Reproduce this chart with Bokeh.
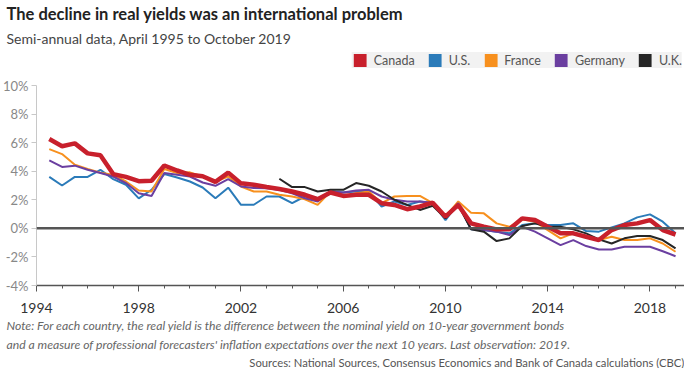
from bokeh.plotting import figure
from bokeh.models import (Range1d, FixedTicker, PrintfTickFormatter, Span, Title,
                          Legend, LegendItem)
from bokeh.embed import file_html
from bokeh.resources import INLINE

NaN = float("nan")

# Semi-annual observations (x positions in years, as plotted in the reference)
start_year = 1994.5
step_years = 0.5

canada = [6.25, 5.75, 5.95, 5.25, 5.12, 3.80, 3.60, 3.30, 3.33, 4.40,
          4.05, 3.75, 3.65, 3.25, 3.90, 3.15, 3.05, 2.89, 2.75, 2.58,
          2.35, 2.04, 2.51, 2.27, 2.35, 2.35, 1.76, 1.64, 1.34, 1.53,
          1.80, 0.82, 1.64, 0.35, 0.11, -0.07, -0.07, 0.70, 0.58, 0.11,
          -0.35, -0.35, -0.59, -0.82, -0.12, 0.23, 0.35, 0.58, -0.12, -0.43]
us = [3.60, 3.00, 3.60, 3.60, 4.10, 3.45, 3.05, 2.10, 2.70, 3.80,
      3.56, 3.28, 2.86, 2.10, 2.85, 1.65, 1.65, 2.23, 2.23, 1.76,
      2.23, 2.00, 2.58, 2.51, 2.58, 2.58, 1.53, 1.88, 1.64, 1.88,
      1.76, 0.58, 1.76, -0.07, -0.12, -0.23, -0.35, 0.23, 0.35, 0.23,
      0.23, 0.35, -0.19, -0.23, 0.07, 0.35, 0.77, 0.98, 0.47, -0.35]
france = [5.55, 5.20, 4.45, 4.15, 3.90, 3.75, 3.28, 2.65, 2.58, 4.15,
          3.87, 3.92, 3.63, 3.28, 3.63, 2.93, 2.58, 2.58, 2.35, 2.23,
          2.04, 1.64, 2.58, 2.23, 2.46, 2.58, 1.76, 2.23, 2.27, 2.27,
          1.76, 0.82, 1.88, 1.10, 1.05, 0.35, 0.11, 0.63, 0.47, -0.12,
          -0.70, -0.35, -0.54, -0.82, -0.59, -0.82, -0.82, -0.70, -1.06, -1.64]
germany = [4.76, 4.30, 4.39, 4.10, 3.87, 3.63, 3.17, 2.46, 2.27, 3.87,
           3.75, 3.63, 3.21, 2.98, 3.45, 2.93, 2.82, 2.81, 2.70, 2.46,
           2.11, 1.88, 2.58, 2.51, 2.65, 2.70, 2.23, 2.00, 1.88, 1.88,
           1.80, 0.70, 1.76, -0.05, -0.12, -0.23, -0.47, 0.11, -0.23, -0.70,
           -1.17, -0.82, -1.24, -1.48, -1.48, -1.29, -1.29, -1.29, -1.60, -1.95]
uk = [NaN, NaN, NaN, NaN, NaN, NaN, NaN, NaN, NaN, NaN,
      NaN, NaN, NaN, NaN, NaN, NaN, NaN, NaN, 3.47, 2.89,
      2.89, 2.58, 2.70, 2.70, 3.17, 2.98, 2.58, 2.00, 1.64, 1.29,
      1.58, 0.70, 1.64, -0.07, -0.23, -0.89, -0.70, 0.16, 0.35, 0.11,
      0.11, -0.07, -0.35, -0.77, -1.06, -0.70, -0.54, -0.54, -0.82, -1.40]

series_names = ["Canada", "U.S.", "France", "Germany", "U.K."]
series_colors = ["#c8202c", "#2b7bb9", "#f7901e", "#6b3fa0", "#262626"]
y_ticks = [-4, -2, 0, 2, 4, 6, 8, 10]
x_major_ticks = [1994, 1998, 2002, 2006, 2010, 2014, 2018]
x_minor_ticks = list(range(1994, 2020))

title_text = "The decline in real yields was an international problem"
subtitle_text = "Semi-annual data, April 1995 to October 2019"
note_1 = ("Note: For each country, the real yield is the difference between the "
          "nominal yield on 10-year government bonds")
note_2 = ("and a measure of professional forecasters' inflation expectations over "
          "the next 10 years. Last observation: 2019.")
source_text = ("Sources: National Sources, Consensus Economics and Bank of Canada "
               "calculations (CBC)")

FONT = "Lato"

x = [start_year + step_years * i for i in range(len(canada))]

p = figure(width=684, height=368, output_backend="svg", toolbar_location=None,
           title=None,
           x_range=Range1d(1994, 2019.35), y_range=Range1d(-4, 12.45),
           min_border_left=30, min_border_right=0, min_border_top=0,
           min_border_bottom=0, outline_line_color=None,
           background_fill_color="white", border_fill_color="white")
p.xgrid.visible = False
p.ygrid.visible = False

# zero line
p.add_layout(Span(location=0, dimension="width", line_color="#555555",
                  line_width=2.5))

values = {"Canada": canada, "U.S.": us, "France": france,
          "Germany": germany, "U.K.": uk}
widths = {"Canada": 4.5, "U.S.": 2, "France": 2, "Germany": 2, "U.K.": 2}
draw_order = ["U.S.", "France", "Germany", "U.K.", "Canada"]
col_of = dict(zip(series_names, series_colors))
for name in draw_order:
    p.line(x, values[name], line_color=col_of[name], line_width=widths[name])

# legend swatches (invisible placeholder glyphs, only used by the legend)
items = []
for name in series_names:
    r = p.quad(left=[NaN], right=[NaN], bottom=[NaN], top=[NaN],
               fill_color=col_of[name], line_color=None)
    items.append(LegendItem(label=name, renderers=[r]))

legend = Legend(items=items, orientation="horizontal", location="top_right",
                background_fill_color="#f2f2f2", background_fill_alpha=1.0,
                border_line_color=None, glyph_width=16, glyph_height=16,
                label_standoff=6, spacing=12, padding=8, margin=2,
                label_height=16, label_text_font=FONT,
                label_text_font_size="12.5px", label_text_color="#555555")
p.add_layout(legend, "center")

p.add_layout(Title(text=subtitle_text, align="left", offset=-30,
                   text_font=FONT, text_font_size="14px",
                   text_font_style="normal", text_color="#444444",
                   standoff=7), "above")
p.add_layout(Title(text=title_text, align="left", offset=-30,
                   text_font=FONT, text_font_size="16.5px",
                   text_font_style="bold", text_color="#222222",
                   standoff=2), "above")

# axes
p.yaxis.ticker = FixedTicker(ticks=y_ticks)
p.yaxis.formatter = PrintfTickFormatter(format="%d%%")
p.yaxis.bounds = (-4, 10)
p.yaxis.axis_line_color = "#c8c8c8"
p.yaxis.major_tick_line_color = "#c8c8c8"
p.yaxis.minor_tick_line_color = None
p.yaxis.major_tick_out = 5
p.yaxis.major_tick_in = 0
p.yaxis.major_label_standoff = 3
p.yaxis.major_label_text_font = FONT
p.yaxis.major_label_text_font_size = "13px"
p.yaxis.major_label_text_color = "#888888"

p.xaxis.ticker = FixedTicker(ticks=x_major_ticks, minor_ticks=x_minor_ticks)
p.xaxis.formatter = PrintfTickFormatter(format="%d")
p.xaxis.bounds = (1994, 2019.35)
p.xaxis.axis_line_color = "#555555"
p.xaxis.axis_line_width = 1.5
p.xaxis.major_tick_line_color = "#555555"
p.xaxis.minor_tick_line_color = "#555555"
p.xaxis.major_tick_out = 6
p.xaxis.major_tick_in = 0
p.xaxis.minor_tick_out = 3
p.xaxis.minor_tick_in = 0
p.xaxis.major_label_standoff = 11
p.xaxis.major_label_text_font = FONT
p.xaxis.major_label_text_font_size = "14px"
p.xaxis.major_label_text_color = "#333333"

# notes below
p.add_layout(Title(text=note_1, align="left", offset=-30, text_font=FONT,
                   text_font_size="12.2px", text_font_style="italic",
                   text_color="#666666", standoff=0), "below")
p.add_layout(Title(text=note_2, align="left", offset=-30, text_font=FONT,
                   text_font_size="12.2px", text_font_style="italic",
                   text_color="#666666", standoff=4), "below")
p.add_layout(Title(text=source_text, align="right", offset=0, text_font=FONT,
                   text_font_size="11.25px", text_font_style="normal",
                   text_color="#555555", standoff=0), "below")

open("out.html", "w").write(file_html(p, INLINE))
